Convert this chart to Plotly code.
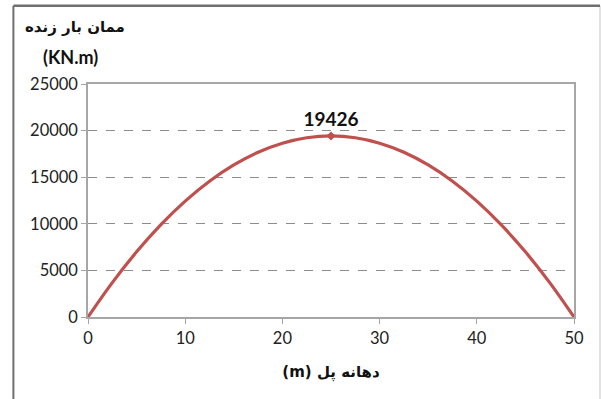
import plotly.graph_objects as go

# Live-load bending moment along the bridge span
span_m = [0, 2.5, 5, 7.5, 10, 12.5, 15, 17.5, 20, 22.5, 25,
          27.5, 30, 32.5, 35, 37.5, 40, 42.5, 45, 47.5, 50]
moment_knm = [0, 3691, 6993, 9907, 12433, 14570, 16318, 17678, 18649, 19232, 19426,
              19232, 18649, 17678, 16318, 14570, 12433, 9907, 6993, 3691, 0]

peak_x = [25]
peak_y = [19426]

x_ticks = [0, 10, 20, 30, 40, 50]
y_ticks = [0, 5000, 10000, 15000, 20000, 25000]

tick_font = dict(family="Lato, 'Open Sans', sans-serif", size=16.5, color="#222")
axis_gray = "#a6a6a6"

fig = go.Figure()
fig.add_trace(go.Scatter(
    x=span_m, y=moment_knm, mode="lines",
    line=dict(color="#C0504D", width=3.2, shape="spline"),
    hoverinfo="x+y", showlegend=False,
))
fig.add_trace(go.Scatter(
    x=peak_x, y=peak_y, mode="markers+text",
    marker=dict(symbol="diamond", size=7, color="#C0504D"),
    text=[str(v) for v in peak_y], textposition="top center",
    textfont=dict(family="Lato, 'Open Sans', sans-serif", size=19, color="#111"),
    texttemplate="<b>%{text}</b>",
    showlegend=False,
))

fig.update_xaxes(
    range=[0, 50], tickvals=x_ticks, ticktext=[str(v) for v in x_ticks],
    showgrid=False, zeroline=False,
    showline=True, linecolor=axis_gray, linewidth=1.5, mirror=True,
    ticks="outside", ticklen=5, tickcolor=axis_gray, tickfont=tick_font,
    title=dict(text="<b>(m) دهانه پل</b>",
               font=dict(family="DejaVu Sans", size=15, color="#111"), standoff=20),
)
fig.update_yaxes(
    range=[0, 25000], tickvals=y_ticks, ticktext=[str(v) for v in y_ticks],
    showgrid=True, gridcolor="#8c8c8c", griddash="dash", gridwidth=1,
    zeroline=False,
    showline=True, linecolor=axis_gray, linewidth=1.5, mirror=True,
    ticks="outside", ticklen=5, tickcolor=axis_gray, tickfont=tick_font,
)

# Axis caption above the value axis
fig.add_annotation(xref="paper", yref="paper", x=-0.027, y=1.245,
                   xanchor="center", yanchor="middle",
                   text="<b>ممان بار زنده</b>", showarrow=False,
                   font=dict(family="DejaVu Sans", size=15, color="#111"))
fig.add_annotation(xref="paper", yref="paper", x=-0.035, y=1.115,
                   xanchor="center", yanchor="middle",
                   text="<b>(KN.m)</b>", showarrow=False,
                   font=dict(family="Lato, 'Open Sans', sans-serif", size=18, color="#111"))

# Frame around the chart
fig.add_shape(type="line", xref="paper", yref="paper",
              x0=1.0535, x1=1.0535, y0=1.336, y1=-0.5,
              line=dict(color="#d9d9d9", width=1.5))
fig.add_shape(type="line", xref="paper", yref="paper",
              x0=-0.1535, x1=1.0535, y0=1.336, y1=1.336,
              line=dict(color="#6f6f6f", width=2.5))
fig.add_shape(type="line", xref="paper", yref="paper",
              x0=-0.1535, x1=-0.1535, y0=1.336, y1=-0.5,
              line=dict(color="#6f6f6f", width=2))

fig.update_layout(
    width=601, height=399,
    margin=dict(l=88, r=27, t=84, b=82),
    paper_bgcolor="white", plot_bgcolor="white",
)

fig.write_html("out.html")
